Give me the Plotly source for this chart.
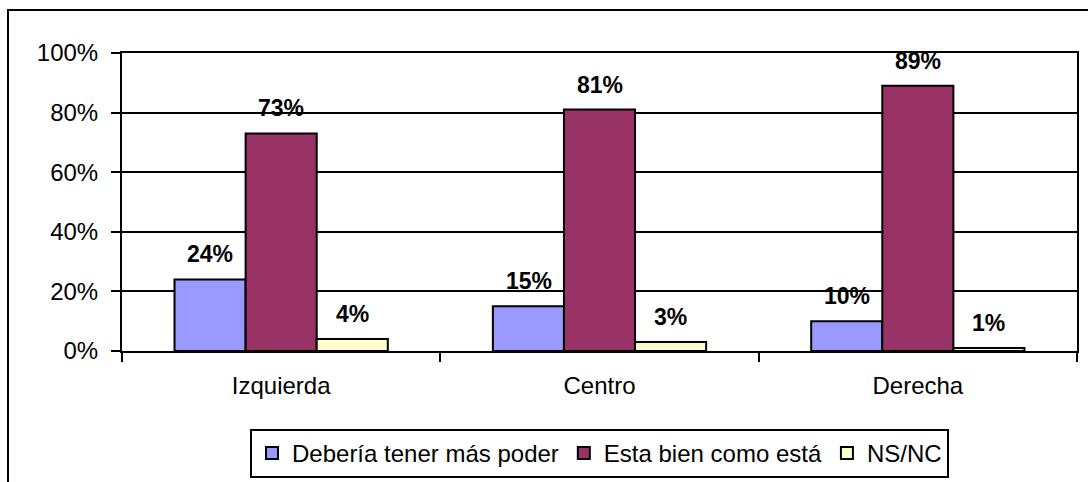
import plotly.graph_objects as go

categories = ["Izquierda", "Centro", "Derecha"]
series_names = ["Debería tener más poder", "Esta bien como está", "NS/NC"]
deberia = [0.24, 0.15, 0.10]
esta_bien = [0.73, 0.81, 0.89]
nsnc = [0.04, 0.03, 0.01]
label_deberia = ["24%", "15%", "10%"]
label_esta = ["73%", "81%", "89%"]
label_nsnc = ["4%", "3%", "1%"]
y_ticks = [0, 0.2, 0.4, 0.6, 0.8, 1.0]
y_ticklabels = ["0%", "20%", "40%", "60%", "80%", "100%"]

colors = ["#9999FF", "#993366", "#FFFFCC"]
FONT = "Liberation Sans, Arial, sans-serif"

fig = go.Figure()
all_vals = [deberia, esta_bien, nsnc]
all_labels = [label_deberia, label_esta, label_nsnc]
for name, vals, col in zip(series_names, all_vals, colors):
    fig.add_trace(go.Bar(
        x=categories, y=vals, name=name,
        marker=dict(color=col, line=dict(color="black", width=2)),
    ))

# value labels above bars (offset like the original)
offsets = [-1, 0, 1]
for vals, labs, off in zip(all_vals, all_labels, offsets):
    for i, (v, t) in enumerate(zip(vals, labs)):
        fig.add_annotation(
            x=i + off * 0.2225, y=v, xref="x", yref="y", text="<b>%s</b>" % t,
            showarrow=False, yanchor="middle", yshift=25,
            font=dict(family=FONT, size=23, color="black"),
        )

# outer chart border (right and bottom edges fall outside the picture)
fig.add_shape(type="rect", xref="paper", yref="paper",
              x0=(8 - 122) / 955, x1=(1120 - 122) / 955,
              y0=(351 - 520) / 298, y1=1 + (53 - 10) / 298,
              line=dict(color="black", width=2), fillcolor="rgba(0,0,0,0)", layer="below")

fig.update_layout(
    width=1088, height=482,
    margin=dict(l=122, r=11, t=53, b=131, autoexpand=False),
    paper_bgcolor="white", plot_bgcolor="white",
    barmode="group", bargap=0.33, bargroupgap=0,
    font=dict(family=FONT, size=24, color="black"),
    showlegend=True,
    legend=dict(
        orientation="h", x=0.5, xanchor="center", y=-(478 - 351) / 298, yanchor="bottom",
        bordercolor="black", borderwidth=2, bgcolor="white",
        font=dict(family=FONT, size=24, color="black"),
        itemwidth=30, tracegroupgap=0,
    ),
    xaxis=dict(
        showline=True, linecolor="black", linewidth=2, mirror=True,
        ticks="outside", tickson="boundaries", ticklen=9, tickwidth=2, tickcolor="black",
        ticklabelstandoff=12, automargin=False,
        tickfont=dict(family=FONT, size=24, color="black"),
        showgrid=False, fixedrange=True,
    ),
    yaxis=dict(
        range=[0, 1], tickvals=y_ticks, ticktext=y_ticklabels,
        showline=True, linecolor="black", linewidth=2, mirror=True,
        ticks="outside", ticklen=9, tickwidth=2, tickcolor="black",
        ticklabelstandoff=8, automargin=False,
        showgrid=True, gridcolor="black", gridwidth=2,
        zeroline=False,
        tickfont=dict(family=FONT, size=24, color="black"),
        fixedrange=True,
    ),
)

fig.write_html("out.html", config={"displayModeBar": False},
               post_script="document.body.style.margin='0';")
